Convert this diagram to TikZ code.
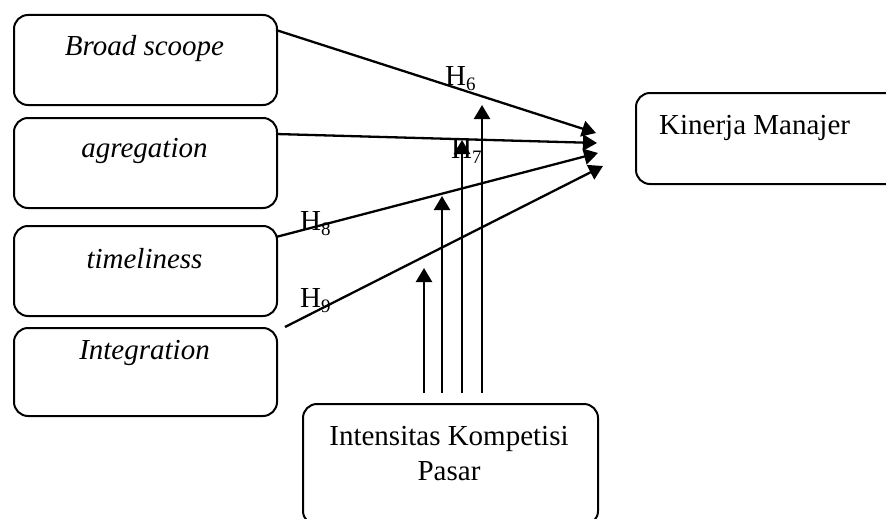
\documentclass[tikz,border=0pt]{standalone}
\usepackage{fontspec}
\setmainfont{Liberation Serif}
\usetikzlibrary{arrows.meta}
\begin{document}
\begin{tikzpicture}[x=1pt,y=-1pt,
  box/.style={draw,line width=2pt,rounded corners=14pt,inner sep=0pt,anchor=north west},
  txt/.style={anchor=base,inner sep=0pt,font=\fontsize{29}{35}\selectfont},
  itxt/.style={txt,font=\fontsize{29}{35}\selectfont\itshape},
  hl/.style={anchor=base west,inner sep=0pt,font=\fontsize{29}{35}\selectfont},
  conn/.style={line width=2.3pt,-{Triangle[length=14pt,width=16pt]}}]
\clip (0,0) rectangle (886,519);
% boxes
\node[box,minimum width=263pt,minimum height=90pt] (b1) at (13,14) {};
\node[box,minimum width=263pt,minimum height=90pt] (b2) at (13,117) {};
\node[box,minimum width=263pt,minimum height=90pt] (b3) at (13,225) {};
\node[box,minimum width=263pt,minimum height=88pt] (b4) at (13,327) {};
\node[box,minimum width=280pt,minimum height=91pt] (km) at (635,92) {};
\node[box,minimum width=295pt,minimum height=121pt] (ik) at (302,403) {};
% texts
\node[itxt] (t1) at (144.5,56) {Broad scoope};
\node[itxt] (t2) at (144.5,157) {agregation};
\node[itxt] (t3) at (144.5,268) {timeliness};
\node[itxt] (t4) at (144.5,359) {Integration};
\node[hl] (tk) at (659,134) {Kinerja Manajer};
\node[txt] (ti1) at (449,445) {Intensitas Kompetisi};
\node[txt] (ti2) at (449,480) {Pasar};
% connector ends
\coordinate (s1) at (276,30);  \coordinate (e1) at (596,133);
\coordinate (s2) at (276,134); \coordinate (e2) at (597,143);
\coordinate (s3) at (276,237); \coordinate (e3) at (598,153);
\coordinate (s4) at (285,327); \coordinate (e4) at (603,166);
\draw[conn] (s1) -- (e1);
\draw[conn] (s2) -- (e2);
\draw[conn] (s3) -- (e3);
\draw[conn] (s4) -- (e4);
% vertical arrows
\coordinate (v1a) at (424,393); \coordinate (v1b) at (424,268);
\coordinate (v2a) at (442,393); \coordinate (v2b) at (442,196);
\coordinate (v3a) at (462,393); \coordinate (v3b) at (462,140);
\coordinate (v4a) at (482,393); \coordinate (v4b) at (482,105);
\draw[conn] (v1a) -- (v1b);
\draw[conn] (v2a) -- (v2b);
\draw[conn] (v3a) -- (v3b);
\draw[conn] (v4a) -- (v4b);
% labels
\newcommand{\hyp}[1]{H\raisebox{-5pt}{\fontsize{19}{20}\selectfont #1}}
\node[hl] (h6) at (445,85) {\hyp{6}};
\node[hl] (h7) at (451,158) {\hyp{7}};
\node[hl] (h8) at (300,230) {\hyp{8}};
\node[hl] (h9) at (300,307) {\hyp{9}};
\end{tikzpicture}
\end{document}
